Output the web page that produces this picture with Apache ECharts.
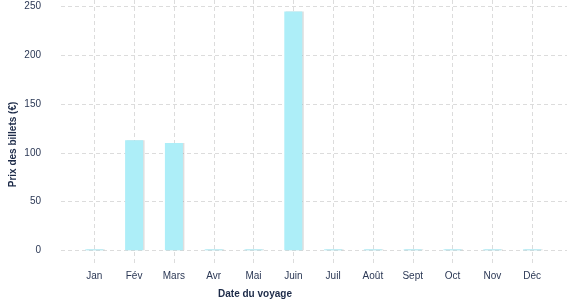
<!DOCTYPE html>
<html>
<head>
<meta charset="utf-8">
<script src="https://cdn.jsdelivr.net/npm/echarts@6/dist/echarts.min.js"></script>
<style>html,body{margin:0;padding:0;background:#fff}#c{width:577px;height:300px}</style>
</head>
<body>
<div id="c"></div>
<script>
const months = ['Jan','Fév','Mars','Avr','Mai','Juin','Juil','Août','Sept','Oct','Nov','Déc'];
const prices = [1, 113, 110, 1, 1, 245, 1, 1, 1, 1, 1, 1];
const yTicks = [0, 50, 100, 150, 200, 250];
const xTitle = 'Date du voyage';
const yTitle = 'Prix des billets (€)';

const chart = echarts.init(document.getElementById('c'), null, {renderer: 'canvas'});
const grid = '#dcdcdc';
const font = 'Liberation Sans, Arial, sans-serif';
const opt = {
  animation: false,
  grid: [
    {left: 61, right: 10, top: 6.7, bottom: 49.7},
    {left: 74.4, right: 25, top: 6.7, bottom: 49.7},
    {left: 94.3, right: 44.7, top: 0, bottom: 35}
  ],
  xAxis: [
    {gridIndex: 0, type: 'value', show: false, min: 0, max: 1},
    {gridIndex: 1, type: 'category', data: months, boundaryGap: true,
     axisLine: {show: false}, axisTick: {show: false}, splitLine: {show: false},
     axisLabel: {margin: 21, fontSize: 10, color: '#2b3855', fontFamily: font, interval: 0}},
    {gridIndex: 2, type: 'category', data: months, boundaryGap: false,
     axisLine: {show: false}, axisTick: {show: false}, axisLabel: {show: false},
     splitLine: {show: true, interval: 0, lineStyle: {color: grid, type: [4, 3], width: 1}}}
  ],
  yAxis: [
    {gridIndex: 0, type: 'value', min: yTicks[0], max: yTicks[yTicks.length - 1], interval: 50,
     axisLine: {show: false}, axisTick: {show: false},
     axisLabel: {margin: 20, fontSize: 10, color: '#2b3855', fontFamily: font},
     splitLine: {show: true, lineStyle: {color: grid, type: [4, 3], width: 1}}},
    {gridIndex: 1, type: 'value', min: 0, max: 250, interval: 50, show: false, splitLine: {show: false}},
    {gridIndex: 2, type: 'value', min: 0, max: 1, show: false, splitLine: {show: false}}
  ],
  series: [{
    type: 'bar', xAxisIndex: 1, yAxisIndex: 1, data: prices, barWidth: 18,
    itemStyle: {color: '#adeef8', shadowColor: 'rgba(0,0,0,0.13)', shadowOffsetX: 1.5, shadowBlur: 0}
  }],
  graphic: [
    {type: 'text', x: 255, y: 294, style: {text: xTitle, font: 'bold 10px ' + font, fill: '#1c2a48', textAlign: 'center', textVerticalAlign: 'middle'}},
    {type: 'text', x: 13.5, y: 144.5, rotation: Math.PI / 2, style: {text: yTitle, font: 'bold 10px ' + font, fill: '#1c2a48', textAlign: 'center', textVerticalAlign: 'middle'}}
  ]
};
chart.setOption(opt);
</script>
</body>
</html>
